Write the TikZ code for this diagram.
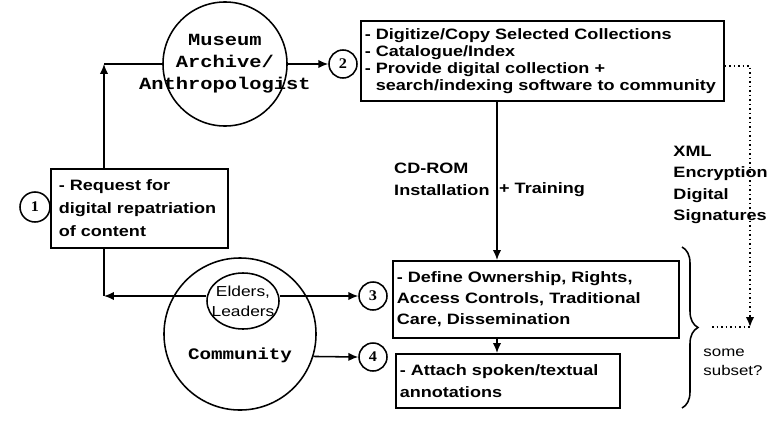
\documentclass[tikz,border=0pt]{standalone}
\usepackage{fontspec}
\setmainfont{Liberation Sans}[FakeStretch=1.2]
\setmonofont{Liberation Mono}[FakeStretch=1.2]
\newfontfamily\numfamily{Liberation Serif}[FakeStretch=1.1]
\usetikzlibrary{arrows.meta,shapes.geometric,decorations.pathreplacing}

\newcommand{\boxfnt}{\fontsize{10.7pt}{14.9pt}\selectfont\bfseries}
\newcommand{\monofnt}{\fontsize{12.1pt}{15.6pt}\selectfont\ttfamily\bfseries}
\newcommand{\numfnt}{\fontsize{10.5pt}{10.5pt}\numfamily\bfseries}
\newcommand{\plainfnt}{\fontsize{10.3pt}{14.2pt}\selectfont}

\begin{document}
\begin{tikzpicture}[x=0.025cm, y=-0.025cm, line width=1.1pt,
  arrowto/.style={-{Latex[length=7pt,width=6pt]}},
  dotline/.style={line width=1.2pt, dash pattern=on 1.2pt off 2pt},
  boxnode/.style={draw, rectangle, anchor=north west, align=left, inner xsep=0.1cm, inner ysep=0pt, font=\boxfnt},
  ringnode/.style={draw, circle, inner sep=0pt},
  numnode/.style={draw, circle, fill=white, minimum size=0.7cm, inner sep=0pt, font=\numfnt}]
\path[use as bounding box, fill=white] (0,0) rectangle (768,428);

\node[ringnode, minimum size=3.1cm] (museum) at (225,64) {};
\node[font=\monofnt, align=center] (museumlabel) at (museum) {Museum\\Archive/\\Anthropologist};
\node[ringnode, minimum size=3.8cm] (community) at (240,334) {};
\node[draw, ellipse, minimum width=1.8cm, minimum height=1.4cm, inner sep=0pt] (elders) at (243,301) {};
\node[font=\plainfnt, align=center] (elderslabel) at (elders) {Elders,\\Leaders};
\node[font=\fontsize{11.4pt}{11.4pt}\selectfont\ttfamily\bfseries] (commlabel) at (240,355) {Community};

\node[boxnode, inner xsep=0.2cm, text width=4.025cm, minimum height=1.975cm, font=\fontsize{10.7pt}{16.4pt}\selectfont\bfseries] (box1) at (50,168) {- Request for\\digital repatriation\\of content};
\node[boxnode, text width=8.875cm, minimum height=2cm, font=\fontsize{10.7pt}{12.1pt}\selectfont\bfseries] (box2) at (360,20) {- Digitize/Copy Selected Collections\\- Catalogue/Index\\- Provide digital collection +\\\phantom{- }search/indexing software to community};
\node[boxnode, text width=6.95cm, minimum height=1.925cm] (box3) at (392,260) {- Define Ownership, Rights,\\Access Controls, Traditional\\Care, Dissemination};
\node[boxnode, text width=5.4cm, minimum height=1.35cm, font=\fontsize{10.7pt}{15.6pt}\selectfont\bfseries] (box4) at (395,353) {- Attach spoken/textual\\annotations};

\node[numnode, minimum size=0.75cm] (c1) at (35,207) {1};
\node[numnode] (c2) at (343,64) {2};
\node[numnode] (c3) at (373,296) {3};
\node[numnode] (c4) at (373,357) {4};

\node[font=\fontsize{10.7pt}{15.6pt}\selectfont\bfseries, align=left, anchor=east] (cdlabel) at (495,179) {CD-ROM\\Installation};
\node[font=\boxfnt, anchor=west, inner xsep=1pt] (trainlabel) at (497,190) {+ Training};
\node[font=\fontsize{10.7pt}{15.3pt}\selectfont\bfseries, align=left, anchor=west] (xmllabel) at (668,185) {XML\\Encryption\\Digital\\Signatures};
\node[font=\fontsize{10pt}{13.5pt}\selectfont, align=left, anchor=west] (subsetlabel) at (698,362) {some\\subset?};

\coordinate (topcorner) at (104,64);
\coordinate (botcorner) at (104,296);
\coordinate (cdx) at (497,0);
\coordinate (bracetop) at (682,247);
\coordinate (bracebot) at (682,408);
\coordinate (bracetip) at (712,327);
\coordinate (dottop) at (750,66);
\coordinate (dotcorner) at (750,327);

\draw[arrowto] (box1.north -| topcorner) -- (topcorner);
\draw (museum.west) -- (topcorner);
\draw[arrowto] (museum.east) -- (c2.west);
\draw[arrowto] (elders.west |- botcorner) -- (botcorner);
\draw (box1.south -| botcorner) -- (botcorner);
\draw[arrowto] (elders.east |- c3) -- (c3.west);
\draw[arrowto] (community.-17.6) -- (c4.west);
\draw[arrowto] (box2.south -| cdx) -- (box3.north -| cdx);
\draw[arrowto] (box3.south -| cdx) -- (box4.north -| cdx);
\draw[dotline, arrowto] (box2.east |- dottop) -- (dottop) -- (dotcorner);
\draw[dotline] (bracetip) -- (dotcorner);
\draw[decorate, decoration={brace, amplitude=0.4cm}] (bracetop) -- (bracebot);
\end{tikzpicture}
\end{document}
